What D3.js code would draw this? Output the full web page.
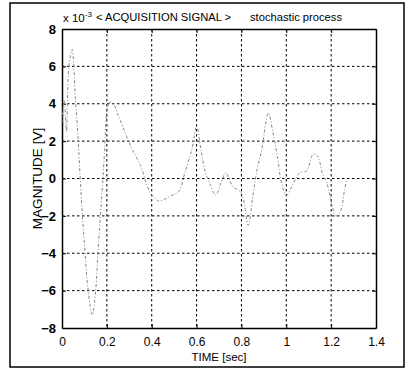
<!DOCTYPE html>
<html><head><meta charset="utf-8">
<script src="https://cdn.jsdelivr.net/npm/d3@7"></script>
<style>body{margin:0;background:#fff}svg{display:block}text{font-family:"Liberation Sans",Arial,sans-serif;fill:#000}</style>
</head><body>
<svg id="c" width="411" height="371"></svg>
<script>
const timeSec = [0, 0.01, 0.02, 0.03, 0.045, 0.06, 0.07, 0.08, 0.09, 0.1, 0.115, 0.135, 0.15, 0.16, 0.17, 0.18, 0.19, 0.2, 0.215, 0.23, 0.25, 0.27, 0.3, 0.32, 0.35, 0.38, 0.4, 0.43, 0.46, 0.49, 0.52, 0.55, 0.58, 0.6, 0.62, 0.64, 0.66, 0.685, 0.71, 0.73, 0.76, 0.8, 0.83, 0.85, 0.87, 0.89, 0.92, 0.94, 0.96, 0.98, 1.0, 1.03, 1.06, 1.09, 1.12, 1.14, 1.16, 1.18, 1.2, 1.22, 1.24, 1.26, 1.27];
const magnitude = [3.0, 4.2, 2.5, 5.9, 6.9, 4.2, 2.5, 0.3, -1.8, -3.5, -5.8, -7.3, -6.0, -4.0, -2.2, -0.5, 1.5, 3.5, 4.1, 4.0, 3.4, 2.8, 1.9, 1.4, 0.7, -0.4, -0.9, -1.2, -1.1, -0.9, -0.7, 0.4, 1.6, 2.8, 1.5, 0.3, -0.3, -0.9, -0.2, 0.3, -0.4, -0.8, -2.5, -1.0, 0.5, 1.5, 3.5, 2.5, 1.2, -0.3, -0.9, -0.3, 0.3, 0.4, 1.3, 1.2, 0.3, -0.2, -1.2, -2.0, -1.8, -0.6, 0.0];
const xTicks = [0, 0.2, 0.4, 0.6, 0.8, 1, 1.2, 1.4];
const xTickLabels = ["0", "0.2", "0.4", "0.6", "0.8", "1", "1.2", "1.4"];
const yTicks = [-8, -6, -4, -2, 0, 2, 4, 6, 8];
const titleText = "< ACQUISITION SIGNAL >";
const subtitleText = "stochastic process";
const xLabel = "TIME [sec]";
const yLabel = "MAGNITUDE [V]";

const svg = d3.select("#c");
const L = 62, R = 376, T = 29, B = 328;
const x = d3.scaleLinear().domain([0, 1.4]).range([L, R]);
const y = d3.scaleLinear().domain([-8, 8]).range([B, T]);

// outer frame
svg.append("rect").attr("x", 10).attr("y", 3).attr("width", 394).attr("height", 364)
  .attr("fill", "none").attr("stroke", "#000").attr("stroke-width", 1.5);

// grid
const grid = svg.append("g").attr("stroke", "#000").attr("stroke-width", 1).attr("stroke-dasharray", "2.5,2.5");
grid.selectAll(".gx").data(xTicks.slice(1, -1)).join("line")
  .attr("x1", d => x(d)).attr("x2", d => x(d)).attr("y1", T).attr("y2", B);
grid.selectAll(".gy").data(yTicks.slice(1, -1)).join("line")
  .attr("x1", L).attr("x2", R).attr("y1", d => y(d)).attr("y2", d => y(d));

// axes
const xAxis = d3.axisBottom(x).tickValues(xTicks).tickFormat((d, i) => xTickLabels[i]).tickSizeInner(-4).tickSizeOuter(0).tickPadding(9);
const gx = svg.append("g").attr("transform", `translate(0,${B})`).call(xAxis);
const yAxis = d3.axisLeft(y).tickValues(yTicks).tickFormat(d3.format("d")).tickSizeInner(-4).tickSizeOuter(0).tickPadding(6);
const gy = svg.append("g").attr("transform", `translate(${L},0)`).call(yAxis);
svg.append("g").attr("transform", `translate(0,${T})`).call(d3.axisTop(x).tickValues(xTicks).tickFormat("").tickSizeInner(-4).tickSizeOuter(0));
svg.append("g").attr("transform", `translate(${R},0)`).call(d3.axisRight(y).tickValues(yTicks).tickFormat("").tickSizeInner(-4).tickSizeOuter(0));
svg.selectAll(".domain").attr("stroke", "#000").attr("stroke-width", 1.5);
svg.selectAll(".tick line").attr("stroke", "#000");
gx.selectAll("text").attr("font-size", 12).attr("fill", "#000");
gy.selectAll("text").attr("font-size", 13).attr("font-weight", "bold").attr("fill", "#000");

// signal
const line = d3.line().x((d, i) => x(timeSec[i])).y(d => y(d)).curve(d3.curveCatmullRom);
svg.append("path").datum(magnitude).attr("d", line)
  .attr("fill", "none").attr("stroke", "#888").attr("stroke-width", 1)
  .attr("stroke-dasharray", "3,2,1,2");

// texts
const t = svg.append("text").attr("x", 63).attr("y", 22).attr("font-size", 11.5);
t.append("tspan").text("x 10");
t.append("tspan").attr("dy", -5).attr("font-size", 8).text("-3");
svg.append("text").attr("x", 96).attr("y", 21).attr("font-size", 11.2).text(titleText);
svg.append("text").attr("x", 250).attr("y", 21).attr("font-size", 11.2).text(subtitleText);
svg.append("text").attr("x", (L + R) / 2).attr("y", 361).attr("text-anchor", "middle").attr("font-size", 11.5).text(xLabel);
svg.append("text").attr("transform", `translate(42,${(T + B) / 2}) rotate(-90)`).attr("text-anchor", "middle").attr("font-size", 13.5).text(yLabel);
</script>
</body></html>
